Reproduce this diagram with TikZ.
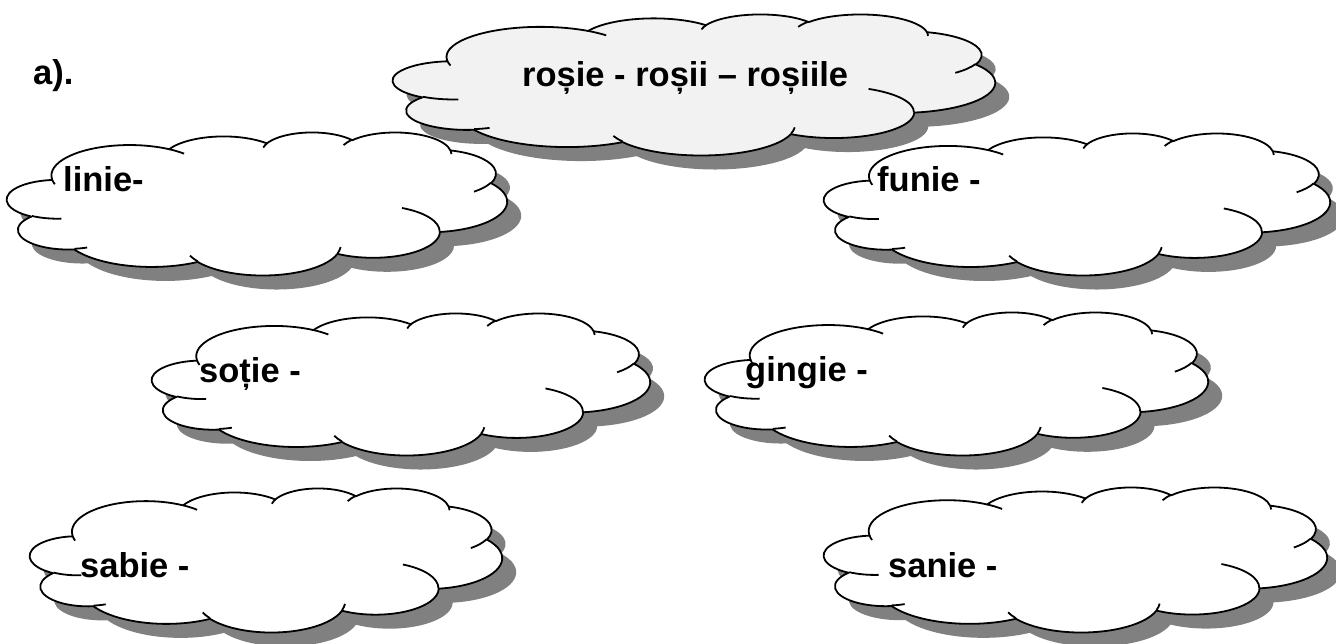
\documentclass[tikz,border=0pt]{standalone}
\usepackage{fontspec}
\setmainfont{Liberation Sans}
\definecolor{shadowgray}{HTML}{808080}
\definecolor{topfill}{HTML}{F2F2F2}
\tikzset{
  cloudline/.style={line width=1.8pt, line join=round},
  cloudshadow/.style={fill=shadowgray},
  lbl/.style={anchor=base west, inner sep=0pt, font=\bfseries\fontsize{34.5}{40}\selectfont}
}
% elliptical arc in the OOXML manner: radii, visual start angle, sweep (degrees)
\newcommand\carc[4]{arc[x radius=#1pt, y radius=#2pt,
  start angle={atan2((#1)*sin(#3),(#2)*cos(#3))},
  delta angle={mod(atan2((#1)*sin((#3)+(#4)),(#2)*cos((#3)+(#4)))-atan2((#1)*sin(#3),(#2)*cos(#3))+720,360)}]}
\newcommand\cloudpath{(3.900,14.370)
  \carc{6.753}{9.190}{-190.4875}{123.7805}
  \carc{5.333}{7.267}{-144.1024}{89.9452}
  \carc{4.365}{5.945}{-145.8079}{99.7230}
  \carc{4.857}{6.595}{-130.9861}{117.2417}
  \carc{5.333}{7.273}{-78.7089}{109.0269}
  \carc{6.775}{9.220}{-46.2673}{130.2690}
  \carc{5.785}{7.867}{0.6250}{114.0333}
  \carc{6.752}{9.215}{22.4516}{115.1726}
  \carc{7.720}{10.543}{66.2426}{75.7110}
  \carc{4.360}{5.918}{-274.9421}{146.7356}
  \carc{4.345}{5.945}{-246.8285}{152.5303} -- cycle}
\newcommand\cloudinner{(4.693,26.177) \carc{4.345}{5.945}{86.742}{26.4295}
  (6.928,34.899) \carc{4.360}{5.918}{73.6105}{11.4475}
  (16.478,39.090) \carc{6.752}{9.215}{137.6242}{14.0811}
  (28.827,34.751) \carc{6.752}{9.215}{6.4533}{15.9984}
  (34.129,22.954) \carc{5.785}{7.867}{-70.2924}{70.9174}
  (41.798,15.354) \carc{5.333}{7.273}{30.3180}{27.7515}
  (38.324,5.426) \carc{4.857}{6.595}{-13.7443}{14.8589}
  (29.078,3.952) \carc{4.857}{6.595}{-149.1815}{18.1954}
  (22.141,4.720) \carc{4.365}{5.945}{-163.4943}{17.6864}
  (14.000,5.192) \carc{6.753}{9.190}{-66.7070}{12.3194}
  (4.127,15.789) \carc{6.753}{9.190}{157.6544}{11.8582}}
% left, top, width, height (pixel frame), fill colour
\newcommand\drawcloud[5]{%
  \begin{scope}[shift={(#1+14,644-#2-14)}, xscale=#3/43.2, yscale=-#4/43.2]
    \fill[cloudshadow] \cloudpath;
  \end{scope}
  \begin{scope}[shift={(#1,644-#2)}, xscale=#3/43.2, yscale=-#4/43.2]
    \filldraw[cloudline, fill=#5] \cloudpath;
    \draw[cloudline] \cloudinner;
  \end{scope}}
\begin{document}
\begin{tikzpicture}[x=1pt,y=1pt]
\useasboundingbox (0,0) rectangle (1336,644);
\fill[white] (0,0) rectangle (1336,644);
\drawcloud{393}{14}{602}{141}{topfill}
\drawcloud{7}{132}{500}{143}{white}
\drawcloud{824}{133}{506}{142}{white}
\drawcloud{152}{313}{498}{142}{white}
\drawcloud{705}{312}{503}{143}{white}
\drawcloud{30}{488}{472}{144}{white}
\drawcloud{824}{487}{503}{145}{white}
\node[lbl] (a) at (33,644-85) {a).};
\node[lbl] (rosie) at (522,644-87) {roșie - roșii – roșiile};
\node[lbl] (linie) at (63,644-192) {linie-};
\node[lbl] (funie) at (877,644-192) {funie -};
\node[lbl] (sotie) at (199,644-383) {soție -};
\node[lbl] (gingie) at (745,644-382) {gingie -};
\node[lbl] (sabie) at (80,644-578) {sabie -};
\node[lbl] (sanie) at (888,644-578) {sanie -};
\end{tikzpicture}
\end{document}
